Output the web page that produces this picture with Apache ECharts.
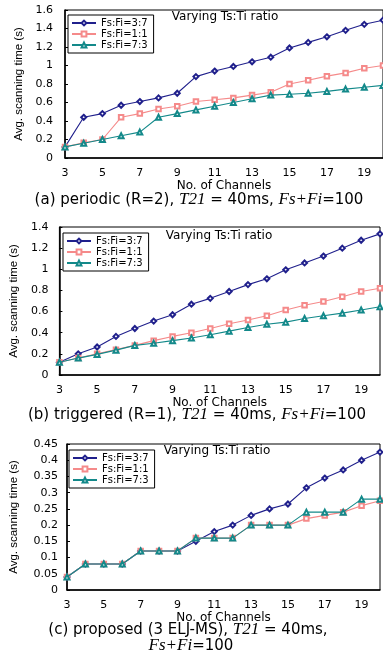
<!DOCTYPE html>
<html>
<head>
<meta charset="utf-8">
<script src="https://cdn.jsdelivr.net/npm/echarts@6/dist/echarts.min.js"></script>
<style>
  html, body { margin: 0; padding: 0; background: #fff; }
  #main { width: 383px; height: 654px; }
</style>
</head>
<body>
<div id="main"></div>
<script>
// channel counts on the x axis
const channels = ['3','4','5','6','7','8','9','10','11','12','13','14','15','16','17','18','19','20'];
const seriesNames = ['Fs:Fi=3:7', 'Fs:Fi=1:1', 'Fs:Fi=7:3'];

// (a) periodic
const periodic37 = [0.12,0.44,0.48,0.57,0.61,0.65,0.70,0.88,0.94,0.99,1.04,1.09,1.19,1.25,1.31,1.38,1.445,1.49];
const periodic11 = [0.12,0.165,0.20,0.44,0.48,0.53,0.56,0.61,0.63,0.65,0.68,0.71,0.80,0.84,0.885,0.92,0.97,1.0];
const periodic73 = [0.12,0.16,0.20,0.24,0.28,0.44,0.48,0.52,0.56,0.60,0.64,0.68,0.69,0.70,0.72,0.745,0.765,0.785];

// (b) triggered
const triggered37 = [0.12,0.20,0.265,0.365,0.44,0.51,0.57,0.67,0.725,0.79,0.855,0.91,0.995,1.06,1.125,1.20,1.275,1.335];
const triggered11 = [0.12,0.16,0.20,0.24,0.28,0.325,0.365,0.40,0.44,0.485,0.52,0.56,0.615,0.66,0.695,0.74,0.79,0.82];
const triggered73 = [0.12,0.16,0.195,0.235,0.28,0.30,0.325,0.35,0.38,0.415,0.45,0.48,0.50,0.535,0.56,0.585,0.615,0.645];

// (c) proposed
const proposed37 = [0.04,0.08,0.08,0.08,0.12,0.12,0.12,0.15,0.18,0.20,0.23,0.25,0.265,0.315,0.345,0.37,0.40,0.425];
const proposed11 = [0.04,0.08,0.08,0.08,0.12,0.12,0.12,0.16,0.16,0.16,0.20,0.20,0.20,0.22,0.23,0.24,0.26,0.275];
const proposed73 = [0.04,0.08,0.08,0.08,0.12,0.12,0.12,0.16,0.16,0.16,0.20,0.20,0.20,0.24,0.24,0.24,0.28,0.28];

// y ranges
const yMax = [1.6, 1.4, 0.45];
const yStep = [0.2, 0.2, 0.05];

const colors = ['#20208c', '#f58a8a', '#13898a'];
const symbols = ['emptyDiamond', 'emptyRect', 'emptyTriangle'];
const symSizes = [5, 4.5, 5];

const sans = 'DejaVu Sans';

var chart = echarts.init(document.getElementById('main'), null, { renderer: 'canvas' });

// panel layout
const panels = [
  { grid: { left: 65, top: 10, width: 318, height: 148 }, legend: { left: 68, top: 15 }, title: [225, 17], yGap: 37, xGap: 20, labelMargin: 12, data: [periodic37, periodic11, periodic73] },
  { grid: { left: 59, top: 227, width: 321, height: 148 }, legend: { left: 63, top: 233 }, title: [219, 236], yGap: 38, xGap: 19, labelMargin: 11, data: [triggered37, triggered11, triggered73] },
  { grid: { left: 66, top: 444, width: 314, height: 146 }, legend: { left: 69, top: 450 }, title: [217, 451], yGap: 47, xGap: 17, labelMargin: 9, data: [proposed37, proposed11, proposed73] }
];

const grids = [], xAxes = [], yAxes = [], legends = [], series = [], graphics = [];

panels.forEach((p, i) => {
  grids.push(Object.assign({ show: true, borderColor: '#000', borderWidth: 1, backgroundColor: '#fff' }, p.grid));
  xAxes.push({
    type: 'category', gridIndex: i, data: channels, boundaryGap: false,
    name: 'No. of Channels', nameLocation: 'middle', nameGap: p.xGap,
    nameTextStyle: { fontFamily: sans, fontSize: 12, color: '#000' },
    axisLine: { lineStyle: { color: '#000', width: 1.5 } },
    axisTick: { show: false },
    axisLabel: { interval: 1, fontFamily: sans, fontSize: 11, color: '#000', margin: 10 },
    splitLine: { show: false }
  });
  yAxes.push({
    type: 'value', gridIndex: i, min: 0, max: yMax[i], interval: yStep[i],
    name: 'Avg. scanning time (s)', nameLocation: 'middle', nameGap: p.yGap,
    nameTextStyle: { fontFamily: 'Liberation Sans', fontSize: 11.5, color: '#000' },
    axisLine: { show: true, lineStyle: { color: '#000', width: 1.5 } },
    axisTick: { show: true, inside: true, length: 3, lineStyle: { color: '#000' } },
    axisLabel: { fontFamily: sans, fontSize: 11, color: '#000', margin: p.labelMargin },
    splitLine: { show: false }
  });
  legends.push({
    id: 'lg' + i,
    data: seriesNames.map(n => n + '\u200b'.repeat(i)),
    orient: 'vertical', left: p.legend.left, top: p.legend.top,
    itemWidth: 24, itemHeight: 6, itemGap: 1,
    padding: [3, 6, 3, 3],
    borderColor: '#000', borderWidth: 1, backgroundColor: '#fff',
    textStyle: { fontFamily: sans, fontSize: 10, color: '#000' },
    selectedMode: false
  });
  p.data.forEach((vals, k) => {
    series.push({
      type: 'line', name: seriesNames[k] + '\u200b'.repeat(i),
      xAxisIndex: i, yAxisIndex: i, data: vals,
      symbol: symbols[k], symbolSize: symSizes[k],
      lineStyle: { color: colors[k], width: 1.1 },
      itemStyle: { color: colors[k], borderColor: colors[k], borderWidth: 1 },
      z: 2 + k
    });
  });
  graphics.push({
    type: 'text', x: p.title[0], y: p.title[1], z: 10,
    style: { text: 'Varying Ts:Ti ratio', font: '12px "DejaVu Sans"', fill: '#000', align: 'center', verticalAlign: 'middle' }
  });
});

// captions
const capFont = '15px "DejaVu Sans"';
const capRich = { i: { fontFamily: 'Liberation Serif', fontStyle: 'italic', fontSize: 17, fill: '#000' } };
const captions = [
  ['(a) periodic (R=2), {i|T21} = 40ms, {i|Fs+Fi}=100', 199, 200],
  ['(b) triggered (R=1), {i|T21} = 40ms, {i|Fs+Fi}=100', 197, 415],
  ['(c) proposed (3 ELJ-MS), {i|T21} = 40ms,', 188, 630],
  ['{i|Fs+Fi}=100', 191, 646]
];
captions.forEach(c => {
  graphics.push({
    type: 'text', x: c[1], y: c[2],
    style: { text: c[0], font: capFont, fill: '#000', align: 'center', verticalAlign: 'middle', rich: capRich }
  });
});

chart.setOption({
  animation: false,
  backgroundColor: '#fff',
  grid: grids,
  xAxis: xAxes,
  yAxis: yAxes,
  legend: legends,
  series: series,
  graphic: graphics
});
</script>
</body>
</html>
